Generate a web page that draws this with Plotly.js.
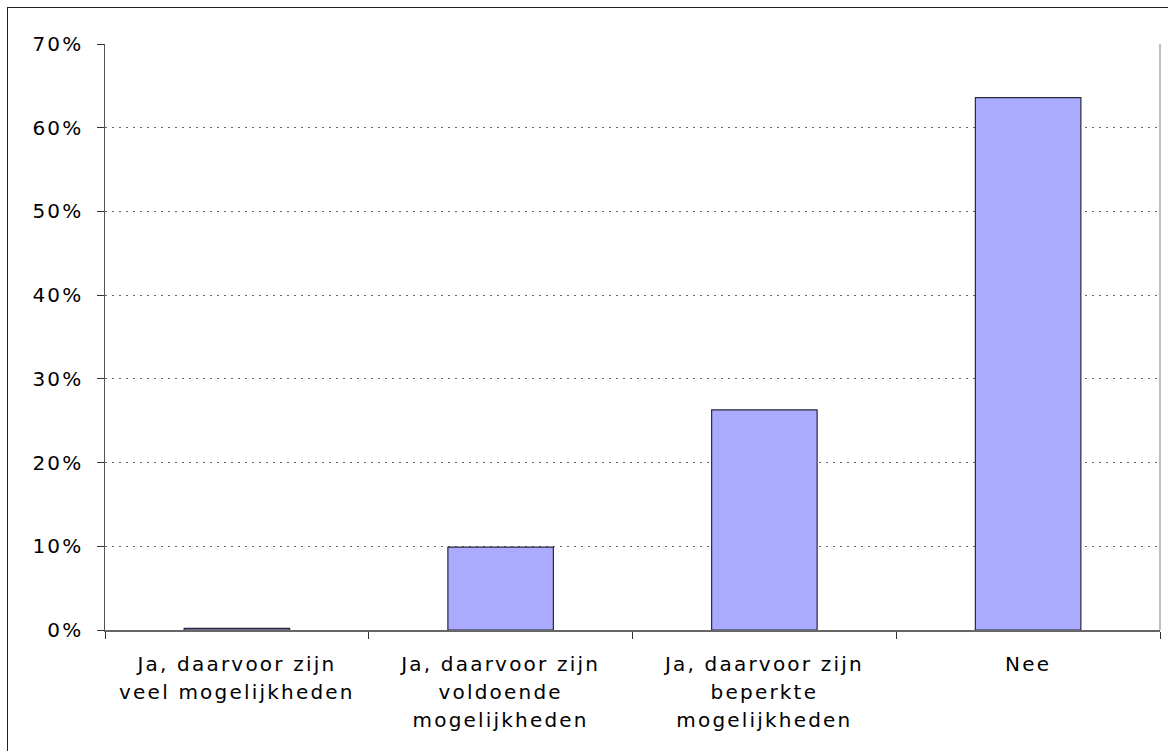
<!DOCTYPE html>
<html>
<head>
<meta charset="utf-8">
<script src="https://cdn.plot.ly/plotly-3.0.1.min.js"></script>
<style>
  html, body { margin: 0; padding: 0; background: #fff; }
  #wrap { position: relative; width: 1168px; height: 751px; overflow: hidden; }
  #chart { position: absolute; left: 0; top: 0; width: 1168px; height: 751px; }
  #frame { position: absolute; left: 7px; top: 7px; width: 1200px; height: 800px;
           border-top: 1.5px solid #222; border-left: 1.5px solid #222; pointer-events: none; }
  #chart text { letter-spacing: 2.2px; }
</style>
</head>
<body>
<div id="wrap">
  <div id="chart"></div>
  <div id="frame"></div>
</div>
<script>
const categories = [
  "Ja, daarvoor zijn<br>veel mogelijkheden",
  "Ja, daarvoor zijn<br>voldoende<br>mogelijkheden",
  "Ja, daarvoor zijn<br>beperkte<br>mogelijkheden",
  "Nee"
];
const shares = [0.002, 0.099, 0.263, 0.636];
const yTickValues = [0, 0.1, 0.2, 0.3, 0.4, 0.5, 0.6, 0.7];
const yTickLabels = ["0%", "10%", "20%", "30%", "40%", "50%", "60%", "70%"];

const fontFamily = "'DejaVu Sans', Verdana, sans-serif";

// wrap each label line so glyphs are 20px while line spacing follows the larger tick font
const xTickText = categories.map(c =>
  c.split("<br>").map(line => '<span style="font-size:20px">' + line + '</span>').join("<br>")
);

const trace = {
  type: "bar",
  x: categories,
  y: shares,
  width: 0.4,
  marker: { color: "#aaaaff", line: { color: "#2a2a3a", width: 1.2 } },
  hoverinfo: "skip"
};

const layout = {
  width: 1168,
  height: 751,
  margin: { l: 105, r: 8, t: 44, b: 121, pad: 0 },
  paper_bgcolor: "#ffffff",
  plot_bgcolor: "#ffffff",
  showlegend: false,
  font: { family: fontFamily, size: 20, color: "#000" },
  xaxis: {
    type: "category",
    range: [-0.5, 3.5],
    tickvals: categories,
    ticktext: xTickText,
    tickson: "boundaries",
    ticks: "outside",
    ticklen: 7,
    tickwidth: 1,
    tickcolor: "#333",
    ticklabelstandoff: 14,
    showline: true,
    linecolor: "#666",
    linewidth: 1.5,
    showgrid: false,
    zeroline: false,
    tickangle: 0,
    tickfont: { family: fontFamily, size: 21.5, color: "#000" },
    automargin: false
  },
  yaxis: {
    range: [0, 0.7],
    tickvals: yTickValues,
    ticktext: yTickLabels,
    ticks: "outside",
    ticklen: 7,
    tickwidth: 1,
    tickcolor: "#333",
    ticklabelstandoff: 9,
    showline: true,
    linecolor: "#555",
    linewidth: 1.5,
    showgrid: true,
    gridcolor: "#666",
    gridwidth: 1,
    griddash: "2px,5px",
    zeroline: false,
    tickfont: { family: fontFamily, size: 20, color: "#000" },
    automargin: false
  },
  shapes: [
    { type: "line", xref: "paper", yref: "paper", x0: 1, x1: 1, y0: 0, y1: 1,
      line: { color: "#aaaaaa", width: 1.5 } }
  ]
};

Plotly.newPlot("chart", [trace], layout, { displayModeBar: false, staticPlot: true });
</script>
</body>
</html>
